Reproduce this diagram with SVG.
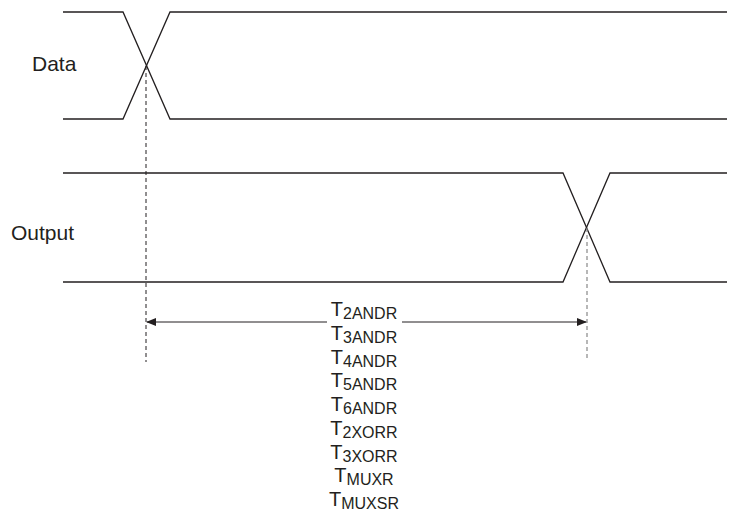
<svg xmlns="http://www.w3.org/2000/svg" width="740" height="518" viewBox="0 0 740 518">
<style>
.w{fill:none;stroke:#231f20;stroke-width:1.3}
.d{fill:none;stroke:#231f20;stroke-width:1;stroke-dasharray:4,3}
.dg{fill:none;stroke:#888;stroke-width:1.2;stroke-dasharray:4,3}
.a{fill:none;stroke:#231f20;stroke-width:1}
text{font-family:"Liberation Sans",Arial,sans-serif;fill:#231f20}
.l{font-size:21px}
.t{font-size:20px;text-anchor:middle}
.s{font-size:16px}
</style>
<defs>
<marker id="ah" markerWidth="10" markerHeight="8" refX="9" refY="4" orient="auto-start-reverse" markerUnits="userSpaceOnUse">
<path d="M0,0 L10,4 L0,8 Z" fill="#231f20"/>
</marker>
</defs>
<g id="data">
<text class="l" x="32" y="71">Data</text>
<polyline class="w" points="63,12 123,12 170,119 727,119"/>
<polyline class="w" points="63,119 123,119 170,12 727,12"/>
</g>
<g id="output">
<text class="l" x="11" y="240">Output</text>
<polyline class="w" points="63,173 563,173 610,282 727,282"/>
<polyline class="w" points="63,282 563,282 610,173 727,173"/>
</g>
<g id="connectors">
<line class="d" x1="146" y1="66" x2="146" y2="362"/>
<line class="dg" x1="587" y1="228" x2="587" y2="360"/>
<line class="a" x1="147" y1="322" x2="327" y2="322" marker-start="url(#ah)"/>
<line class="a" x1="402" y1="322" x2="586" y2="322" marker-end="url(#ah)"/>
</g>
<g id="labels">
<text class="t" x="364" y="316">T<tspan class="s" dy="3">2ANDR</tspan></text>
<text class="t" x="364" y="340">T<tspan class="s" dy="3">3ANDR</tspan></text>
<text class="t" x="364" y="364">T<tspan class="s" dy="3">4ANDR</tspan></text>
<text class="t" x="364" y="387">T<tspan class="s" dy="3">5ANDR</tspan></text>
<text class="t" x="364" y="411">T<tspan class="s" dy="3">6ANDR</tspan></text>
<text class="t" x="364" y="435">T<tspan class="s" dy="3">2XORR</tspan></text>
<text class="t" x="364" y="459">T<tspan class="s" dy="3">3XORR</tspan></text>
<text class="t" x="364" y="482">T<tspan class="s" dy="3">MUXR</tspan></text>
<text class="t" x="364" y="506">T<tspan class="s" dy="3">MUXSR</tspan></text>
</g>
</svg>
